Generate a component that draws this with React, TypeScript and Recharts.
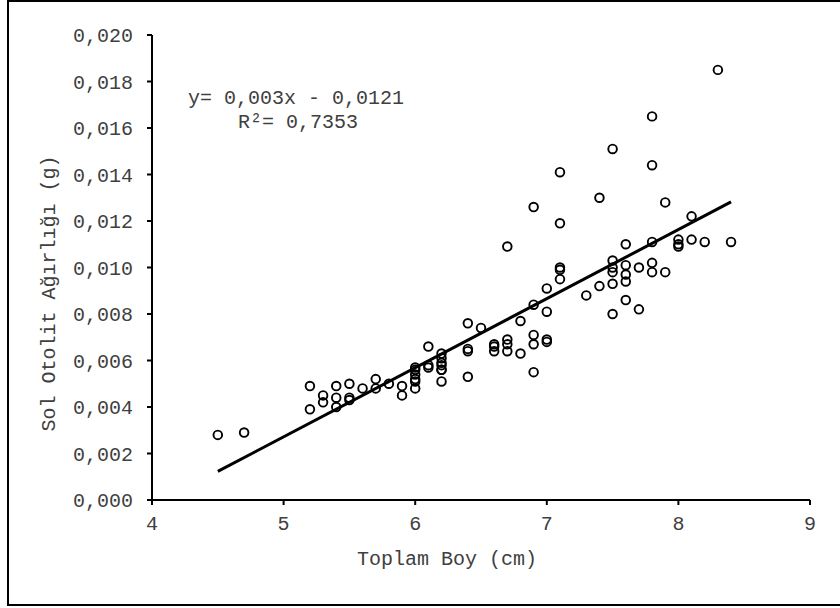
import { Customized, Scatter, ScatterChart, XAxis, YAxis } from "recharts";

// Toplam boy (cm) ve sol otolit ağırlığı (g), noktalar sırayla eşleşir
const lengths = [
  4.5, 4.7,
  5.2, 5.2, 5.3, 5.3, 5.4, 5.4, 5.4, 5.5, 5.5, 5.5, 5.6, 5.7, 5.7, 5.8, 5.9, 5.9,
  6.0, 6.0, 6.0, 6.0, 6.0, 6.0, 6.1, 6.1, 6.1,
  6.2, 6.2, 6.2, 6.2, 6.2, 6.2, 6.2,
  6.4, 6.4, 6.4, 6.4, 6.5, 6.6, 6.6, 6.6, 6.7, 6.7, 6.7, 6.7, 6.8, 6.8,
  6.9, 6.9, 6.9, 6.9, 6.9, 7.0, 7.0, 7.0, 7.0,
  7.1, 7.1, 7.1, 7.1, 7.1, 7.3, 7.4, 7.4,
  7.5, 7.5, 7.5, 7.5, 7.5, 7.5, 7.6, 7.6, 7.6, 7.6, 7.6, 7.7, 7.7,
  7.8, 7.8, 7.8, 7.8, 7.8, 7.9, 7.9, 8.0, 8.0, 8.0, 8.1, 8.1, 8.2, 8.3, 8.4,
];
const weights = [
  0.0028, 0.0029,
  0.0049, 0.0039, 0.0045, 0.0042, 0.0049, 0.0044, 0.004, 0.005, 0.0044, 0.0043, 0.0048, 0.0052, 0.0048, 0.005, 0.0049, 0.0045,
  0.0057, 0.0056, 0.0054, 0.0052, 0.0051, 0.0048, 0.0066, 0.0057, 0.0058,
  0.0063, 0.0061, 0.0059, 0.0058, 0.0056, 0.0056, 0.0051,
  0.0076, 0.0065, 0.0064, 0.0053, 0.0074, 0.0067, 0.0066, 0.0064, 0.0109, 0.0069, 0.0067, 0.0064, 0.0077, 0.0063,
  0.0126, 0.0084, 0.0071, 0.0067, 0.0055, 0.0091, 0.0081, 0.0069, 0.0068,
  0.0141, 0.0119, 0.01, 0.0099, 0.0095, 0.0088, 0.013, 0.0092,
  0.0151, 0.0103, 0.01, 0.0098, 0.0093, 0.008, 0.011, 0.0101, 0.0097, 0.0094, 0.0086, 0.01, 0.0082,
  0.0165, 0.0144, 0.0111, 0.0102, 0.0098, 0.0128, 0.0098, 0.0112, 0.011, 0.0109, 0.0122, 0.0112, 0.0111, 0.0185, 0.0111,
];

// doğrusal trend çizgisinin uç noktaları
const trendX = [4.5, 8.4];
const trendY = [0.00123, 0.01282];

const xTicks = [4, 5, 6, 7, 8, 9];
const yTicks = [0, 0.002, 0.004, 0.006, 0.008, 0.01, 0.012, 0.014, 0.016, 0.018, 0.02];

const equationLine = "y= 0,003x - 0,0121";
const r2Line = "R²= 0,7353";

const points = lengths.map((x, i) => ({ x, y: weights[i] }));
const trend = trendX.map((x, i) => ({ x, y: trendY[i] }));

const font = "'Courier New', 'Liberation Mono', monospace";
const textColor = "#404040";
const tickStyle = { fill: textColor, fontSize: 20, fontFamily: font };

const formatY = (v: number) => v.toFixed(3).replace(".", ",");

function Circle(props: any) {
  const { cx, cy } = props;
  return <circle cx={cx} cy={cy} r={4.3} fill="none" stroke="#000" strokeWidth={1.9} />;
}

function NoDot() {
  return <g />;
}

function Equation() {
  return (
    <g fontFamily={font} fontSize={20} fill={textColor} textAnchor="middle">
      <text x={296} y={104}>{equationLine}</text>
      <text x={298} y={128}>{r2Line}</text>
    </g>
  );
}

export default function App() {
  return (
    <div
      style={{
        position: "absolute",
        left: 0,
        top: 0,
        width: 840,
        height: 608,
        overflow: "hidden",
        background: "#fff",
      }}
    >
      <div
        style={{
          position: "absolute",
          left: 7,
          top: 0,
          width: 900,
          height: 606,
          boxSizing: "border-box",
          border: "2px solid #000",
        }}
      />
      <div style={{ position: "absolute", left: 0, top: 0 }}>
        <ScatterChart width={840} height={608} margin={{ top: 35, right: 30, bottom: 0, left: 0 }}>
          <XAxis
            type="number"
            dataKey="x"
            domain={[4, 9]}
            ticks={xTicks}
            height={108}
            tick={tickStyle}
            tickSize={5}
            tickMargin={11}
            axisLine={{ stroke: "#000", strokeWidth: 2 }}
            tickLine={{ stroke: "#000", strokeWidth: 2 }}
            label={{
              value: "Toplam Boy (cm)",
              position: "center",
              dx: -34,
              dy: 4,
              fill: textColor,
              fontSize: 20,
              fontFamily: font,
            }}
          />
          <YAxis
            type="number"
            dataKey="y"
            domain={[0, 0.02]}
            ticks={yTicks}
            width={152}
            tickFormatter={formatY}
            tick={tickStyle}
            tickSize={5}
            tickMargin={14}
            axisLine={{ stroke: "#000", strokeWidth: 2 }}
            tickLine={{ stroke: "#000", strokeWidth: 2 }}
            label={{
              value: "Sol Otolit Ağırlığı (g)",
              position: "center",
              angle: -90,
              dx: -28,
              dy: 26,
              fill: textColor,
              fontSize: 20,
              fontFamily: font,
            }}
          />
          <Scatter data={points} shape={Circle} isAnimationActive={false} />
          <Scatter
            data={trend}
            shape={NoDot}
            line={{ stroke: "#000", strokeWidth: 3 }}
            isAnimationActive={false}
          />
          <Customized component={Equation} />
        </ScatterChart>
      </div>
    </div>
  );
}
